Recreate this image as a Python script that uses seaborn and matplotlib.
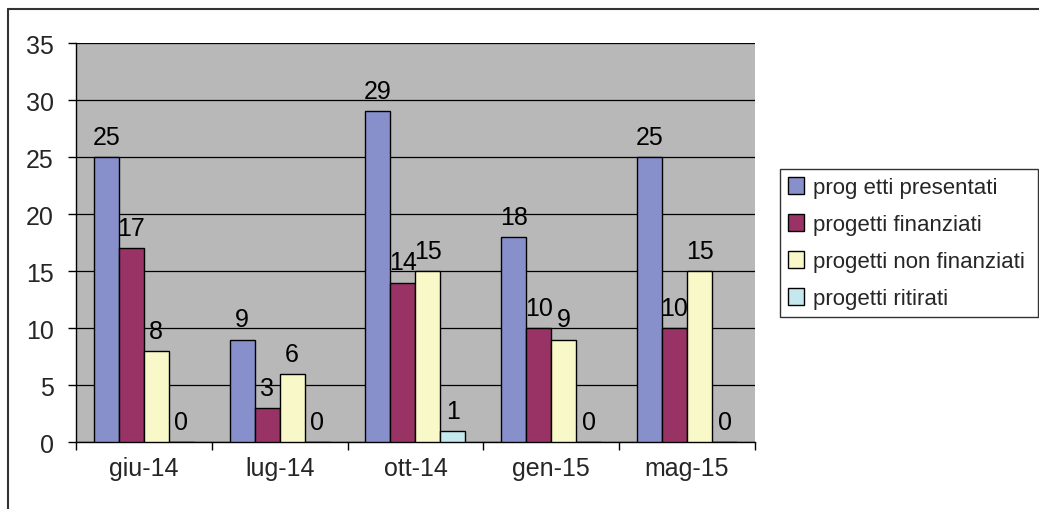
import numpy as np
import pandas as pd
import matplotlib
matplotlib.use("Agg")
import matplotlib.pyplot as plt
from matplotlib.lines import Line2D
from matplotlib.patches import Patch
import seaborn as sns

# Data
periods = ["giu-14", "lug-14", "ott-14", "gen-15", "mag-15"]
series_names = ["prog etti presentati", "progetti finanziati",
                "progetti non finanziati", "progetti ritirati"]
presentati = [25, 9, 29, 18, 25]
finanziati = [17, 3, 14, 10, 10]
non_finanziati = [8, 6, 15, 9, 15]
ritirati = [0, 0, 1, 0, 0]
y_ticks = [0, 5, 10, 15, 20, 25, 30, 35]

colors = ["#8890CC", "#993366", "#F8F8C8", "#C4E8EE"]

values = [presentati, finanziati, non_finanziati, ritirati]
df = pd.DataFrame({
    "periodo": [p for _ in series_names for p in periods],
    "serie": [s for s in series_names for _ in periods],
    "valore": [v for vals in values for v in vals],
})

sns.set_theme(style="white")
plt.rcParams["font.family"] = ["Liberation Sans", "DejaVu Sans"]

fig = plt.figure(figsize=(10.39, 5.10), dpi=100)
ax = fig.add_axes([0.0731, 0.1304, 0.6535, 0.7833])
ax.set_facecolor("#B8B8B8")

sns.barplot(data=df, x="periodo", y="valore", hue="serie", order=periods,
            hue_order=series_names, palette=colors, width=0.736,
            saturation=1, edgecolor="black", linewidth=1.0, ax=ax,
            legend=False, zorder=3)

for container in ax.containers:
    ax.bar_label(container, fmt="%d", padding=6, fontsize=18, color="black")

ax.set_ylim(0, 35)
ax.set_xlim(-0.5, len(periods) - 0.5)
ax.set_yticks(y_ticks)
ax.yaxis.grid(True, color="black", linewidth=0.9, zorder=0)
ax.set_axisbelow(True)
ax.set_xlabel("")
ax.set_ylabel("")

ax.tick_params(axis="y", which="major", direction="out", length=6, width=1,
               color="black", labelsize=18, pad=10, left=True)
ax.tick_params(axis="x", which="major", length=0, labelsize=18, pad=10)
ax.set_xticks(np.arange(-0.5, len(periods)), minor=True)
ax.tick_params(axis="x", which="minor", direction="out", length=6, width=1,
               color="black", bottom=True)

for side in ["top", "right"]:
    ax.spines[side].set_visible(False)
for side in ["left", "bottom"]:
    ax.spines[side].set_color("black")
    ax.spines[side].set_linewidth(1.0)

handles = [Patch(facecolor=c, edgecolor="black", linewidth=1.0) for c in colors]
leg = fig.legend(handles, series_names, loc="lower left",
                 bbox_to_anchor=(0.7507, 0.3765, 0.248, 0.2862), mode="expand",
                 fontsize=16, frameon=True, fancybox=False, borderaxespad=0,
                 handlelength=0.75, handleheight=0.75, handletextpad=0.4,
                 labelspacing=0.72, borderpad=0.35)
leg.get_frame().set_edgecolor("black")
leg.get_frame().set_linewidth(1.0)

# Chart border (top and left edges)
top_y = 1 - 10 / 510
left_x = 8 / 1039
fig.add_artist(Line2D([left_x, 1.0], [top_y, top_y], transform=fig.transFigure,
                      color="#333333", linewidth=1.5))
fig.add_artist(Line2D([left_x, left_x], [0.0, top_y], transform=fig.transFigure,
                      color="#333333", linewidth=1.5))

fig.savefig("out.png", dpi=100, facecolor="white")
